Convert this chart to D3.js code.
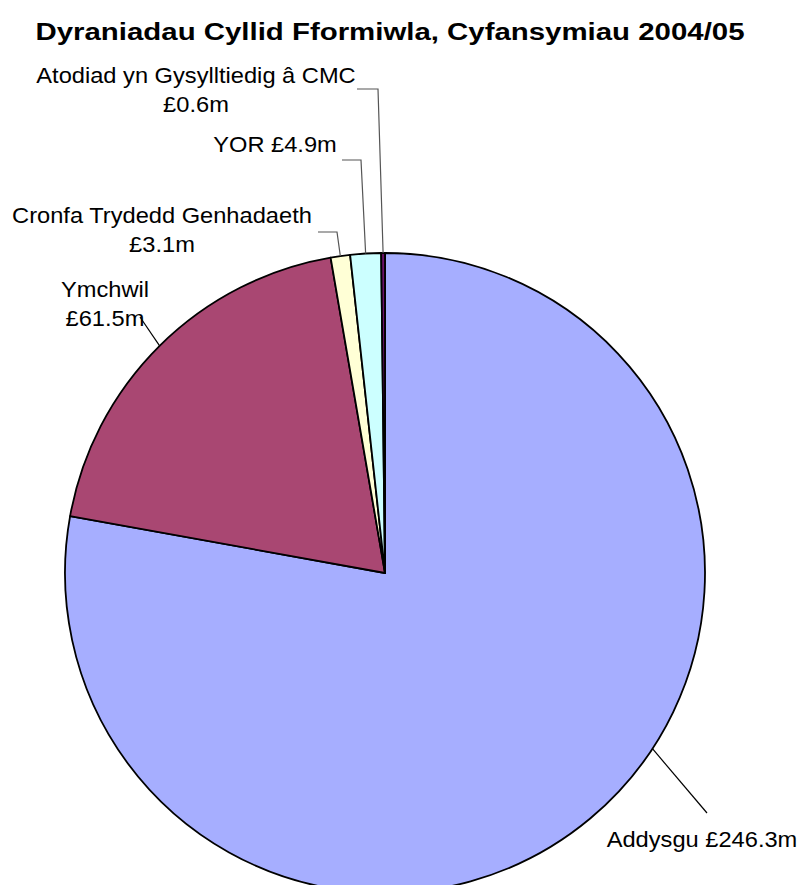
<!DOCTYPE html>
<html>
<head>
<meta charset="utf-8">
<script src="https://cdn.jsdelivr.net/npm/d3@7"></script>
<style>
  html, body { margin: 0; padding: 0; background: #fff; }
  svg { display: block; font-family: "Liberation Sans", Arial, sans-serif; }
</style>
</head>
<body>
<div id="chart"></div>
<script>
// Chart data
const categories = ['Addysgu', 'Ymchwil', 'Cronfa Trydedd Genhadaeth', 'YOR', 'Atodiad yn Gysylltiedig â CMC']
const values = [246.3, 61.5, 3.1, 4.9, 0.6]
const colours = ['#a6aeff', '#a94772', '#ffffd6', '#ccffff', '#6c1169']
const labelLines = [
  ['Addysgu £246.3m'],
  ['Ymchwil', '£61.5m'],
  ['Cronfa Trydedd Genhadaeth', '£3.1m'],
  ['YOR £4.9m'],
  ['Atodiad yn Gysylltiedig â CMC', '£0.6m']
]

const width = 802,
  height = 885,
  cx = 385,
  cy = 573,
  radius = 320,
  stretch = 1.1

// label placement: text centre x, first baseline, leader start/elbow, where on slice the leader points
const labelLayout = [
  { x: 702, y: 847, start: [707, 813], elbow: null, frac: 0.44 },
  { x: 105, y: 297, start: [140, 317], elbow: null, frac: 0.5 },
  { x: 162, y: 223, start: [318, 232], elbow: [337, 232], frac: 0.5 },
  { x: 275, y: 152, start: [342, 160], elbow: [361, 160], frac: 0.5 },
  { x: 196, y: 83, start: [357, 89], elbow: [378, 89], frac: 0.5 }
]

const svg = d3.select('#chart')
  .append('svg')
  .attr('width', width)
  .attr('height', height)

svg.append('text')
  .attr('x', 390)
  .attr('y', 40)
  .attr('text-anchor', 'middle')
  .style('font-size', '23px')
  .style('font-weight', 'bold')
  .attr('textLength', 709)
  .attr('lengthAdjust', 'spacingAndGlyphs')
  .text('Dyraniadau Cyllid Fformiwla, Cyfansymiau 2004/05')

const pie = d3.pie().sort(null).value(d => d)
const arcs = pie(values)
const arc = d3.arc().innerRadius(0).outerRadius(radius)

const g = svg.append('g').attr('transform', `translate(${cx},${cy})`)

g.selectAll('path')
  .data(arcs)
  .enter()
  .append('path')
  .attr('d', arc)
  .attr('fill', (d, i) => colours[i])
  .attr('stroke', '#000')
  .attr('stroke-width', 1.8)
  .attr('stroke-linejoin', 'round')

// leader lines
arcs.forEach((a, i) => {
  const L = labelLayout[i]
  const ang = a.startAngle + (a.endAngle - a.startAngle) * L.frac
  const end = [cx + radius * Math.sin(ang), cy - radius * Math.cos(ang)]
  const pts = [L.start]
  if (L.elbow) pts.push(L.elbow)
  pts.push(end)
  svg.append('path')
    .attr('d', d3.line()(pts))
    .attr('fill', 'none')
    .attr('stroke', i < 2 ? '#000' : '#555')
    .attr('stroke-width', 1.2)
})

// labels (glyphs in the reference are a little wider than the font)
labelLines.forEach((lines, i) => {
  const L = labelLayout[i]
  lines.forEach((s, k) => {
    const t = svg.append('text')
      .attr('x', L.x)
      .attr('y', L.y + k * 29)
      .attr('text-anchor', 'middle')
      .style('font-size', '21.5px')
      .attr('fill', '#000')
      .text(s)
    const w = t.node().getComputedTextLength()
    t.attr('textLength', w * stretch)
      .attr('lengthAdjust', 'spacingAndGlyphs')
  })
})
</script>
</body>
</html>
